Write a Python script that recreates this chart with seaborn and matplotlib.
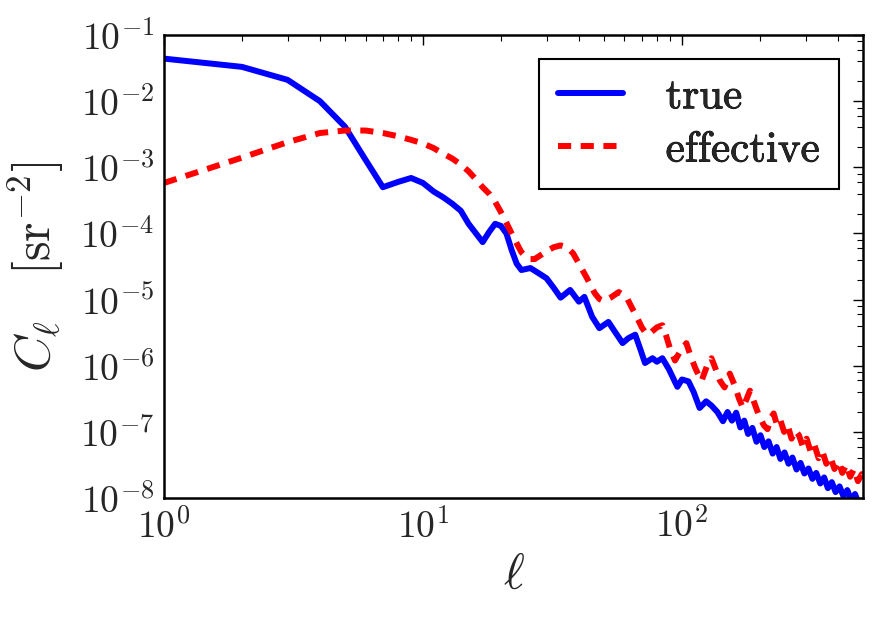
import numpy as np
import pandas as pd
import matplotlib
matplotlib.use("Agg")
import matplotlib.pyplot as plt
import matplotlib.patheffects as pe
import seaborn as sns
from matplotlib.ticker import LogLocator, NullFormatter

# ---- data ----
ell_true = [1, 2, 3, 4, 5, 6, 7, 8, 9, 10, 11, 12, 13, 14, 15, 17, 18, 19, 20, 21,
            22, 23, 24, 26, 28, 30, 32, 34, 37, 40, 42, 45, 48, 52, 55, 59, 62, 66,
            69, 72, 77, 80, 84, 89, 96, 100, 106, 111, 117, 124, 130, 137, 144, 150,
            156, 162, 168, 174, 180, 187, 194, 201, 208, 216, 224, 232, 240, 249,
            258, 267, 277, 287, 297, 308, 319, 330, 342, 354, 366, 379, 392, 406,
            420, 435, 450, 466, 482, 500]
cl_true = [4.4e-2, 3.3e-2, 2.1e-2, 1.0e-2, 4.1e-3, 1.3e-3, 5.0e-4, 6.0e-4, 6.9e-4,
           5.8e-4, 4.3e-4, 3.5e-4, 2.8e-4, 2.2e-4, 1.4e-4, 7.4e-5, 1.05e-4, 1.4e-4,
           1.3e-4, 1.0e-4, 5.6e-5, 3.5e-5, 2.8e-5, 3.0e-5, 2.5e-5, 2.1e-5, 1.5e-5,
           1.07e-5, 1.4e-5, 9.3e-6, 1.1e-5, 5.5e-6, 3.7e-6, 4.6e-6, 3.3e-6, 2.2e-6,
           2.6e-6, 2.95e-6, 1.8e-6, 1.1e-6, 1.3e-6, 1.15e-6, 1.3e-6, 8.9e-7, 4.8e-7,
           6.2e-7, 5.8e-7, 4.0e-7, 2.3e-7, 2.9e-7, 2.5e-7, 2.0e-7, 1.45e-7, 2.0e-7,
           1.48e-7, 1.95e-7, 1.17e-7, 1.48e-7, 9.3e-8, 1.15e-7, 7.1e-8, 8.9e-8, 5.9e-8,
           7.2e-8, 4.7e-8, 5.9e-8, 3.9e-8, 4.9e-8, 3.3e-8, 4.1e-8, 2.7e-8, 3.4e-8,
           2.35e-8, 2.8e-8, 1.95e-8, 2.4e-8, 1.66e-8, 2.05e-8, 1.41e-8, 1.74e-8,
           1.23e-8, 1.5e-8, 1.07e-8, 1.32e-8, 9.3e-9, 1.15e-8, 8.1e-9, 8.9e-9]

ell_eff = [1, 2, 3, 4, 5, 6, 7, 8, 9, 10, 11, 12, 13, 14, 15, 16, 17, 18, 19, 20,
           21, 22, 23, 24, 25, 26, 27, 28, 30, 32, 34, 36, 38, 40, 43, 46, 48, 50,
           53, 57, 61, 64, 67, 70, 73, 76, 80, 84, 87, 90, 94, 98, 104, 108, 113,
           119, 125, 130, 135, 140, 146, 153, 160, 166, 172, 178, 183, 190, 198,
           207, 214, 220, 226, 233, 240, 248, 256, 265, 274, 283, 293, 303, 314,
           325, 337, 349, 361, 374, 388, 402, 416, 431, 446, 462, 478, 495, 500]
cl_eff = [5.8e-4, 1.4e-3, 2.4e-3, 3.3e-3, 3.6e-3, 3.6e-3, 3.3e-3, 2.95e-3, 2.6e-3,
          2.3e-3, 1.95e-3, 1.6e-3, 1.35e-3, 1.1e-3, 8.7e-4, 6.6e-4, 5.0e-4, 4.0e-4,
          3.0e-4, 2.1e-4, 1.45e-4, 1.0e-4, 7.1e-5, 5.2e-5, 4.4e-5, 4.1e-5, 4.1e-5,
          4.5e-5, 5.4e-5, 6.2e-5, 6.6e-5, 6.2e-5, 5.0e-5, 3.5e-5, 2.1e-5, 1.26e-5,
          1.02e-5, 9.5e-6, 1.07e-5, 1.3e-5, 1.1e-5, 7.6e-6, 5.4e-6, 3.8e-6, 3.0e-6,
          3.2e-6, 3.8e-6, 4.1e-6, 2.8e-6, 1.8e-6, 1.2e-6, 1.6e-6, 2.2e-6, 1.4e-6,
          8.9e-7, 5.9e-7, 1.0e-6, 1.3e-6, 8.9e-7, 6.0e-7, 4.7e-7, 7.6e-7, 5.0e-7,
          3.2e-7, 2.3e-7, 3.2e-7, 4.2e-7, 2.8e-7, 1.8e-7, 1.26e-7, 1.1e-7, 1.6e-7,
          1.9e-7, 1.26e-7, 1.5e-7, 1.0e-7, 1.26e-7, 7.9e-8, 1.05e-7, 8.9e-8, 6.0e-8,
          7.9e-8, 5.0e-8, 6.3e-8, 4.0e-8, 5.0e-8, 3.3e-8, 4.2e-8, 2.75e-8, 3.6e-8,
          2.4e-8, 3.2e-8, 2.1e-8, 2.75e-8, 1.8e-8, 2.3e-8, 1.9e-8]

labels = ["true", "effective"]
x_limits = (1, 500)
y_limits = (1e-8, 1e-1)

# ---- style ----
sns.set_style("white")
plt.rcParams["font.family"] = ["serif"]
plt.rcParams["font.serif"] = ["cmr10", "DejaVu Serif"]
plt.rcParams["mathtext.fontset"] = "cm"
plt.rcParams["axes.formatter.use_mathtext"] = True

fig = plt.figure(figsize=(8.77, 6.21), dpi=100)
ax = fig.add_axes([0.187, 0.198, 0.797, 0.7456])

df_true = pd.DataFrame({"ell": ell_true, "cl": cl_true})
df_eff = pd.DataFrame({"ell": ell_eff, "cl": cl_eff})

sns.lineplot(data=df_true, x="ell", y="cl", ax=ax, color="#0000ff", lw=4.3,
             label=labels[0], sort=False, estimator=None)
sns.lineplot(data=df_eff, x="ell", y="cl", ax=ax, color="#ff0000", lw=4.3,
             linestyle=(0, (2.2, 1.6)), label=labels[1], sort=False, estimator=None)

ax.set_xscale("log")
ax.set_yscale("log")
ax.set_xlim(*x_limits)
ax.set_ylim(*y_limits)

ax.yaxis.set_major_locator(LogLocator(base=10, numticks=20))
ax.yaxis.set_minor_locator(LogLocator(base=10, subs=(2, 4, 6, 8), numticks=20))
ax.yaxis.set_minor_formatter(NullFormatter())
ax.xaxis.set_minor_locator(LogLocator(base=10, subs=np.arange(2, 10), numticks=20))
ax.xaxis.set_minor_formatter(NullFormatter())

ax.tick_params(which="both", direction="in", top=True, right=True, color="black")
ax.tick_params(which="major", length=7, width=1.0, labelsize=27, pad=7)
ax.tick_params(which="minor", length=4, width=0.8)
for s in ax.spines.values():
    s.set_linewidth(1.8)
    s.set_color("black")

ax.set_xlabel(r"$\ell$", fontsize=36, labelpad=6)
ax.set_ylabel(r"$C_\ell\quad[\mathrm{sr}^{-2}]$", fontsize=36, labelpad=10)

leg = ax.legend(loc="upper right", prop={"family": "cmr10", "size": 31},
                frameon=True, fancybox=False, edgecolor="black", framealpha=1,
                handlelength=1.5, handletextpad=1.0, borderpad=0.45,
                labelspacing=0.35, borderaxespad=0.55)
leg.get_frame().set_linewidth(1.5)
for t in leg.get_texts():
    t.set_path_effects([pe.withStroke(linewidth=0.6, foreground="black")])

fig.savefig("out.png", dpi=100)
